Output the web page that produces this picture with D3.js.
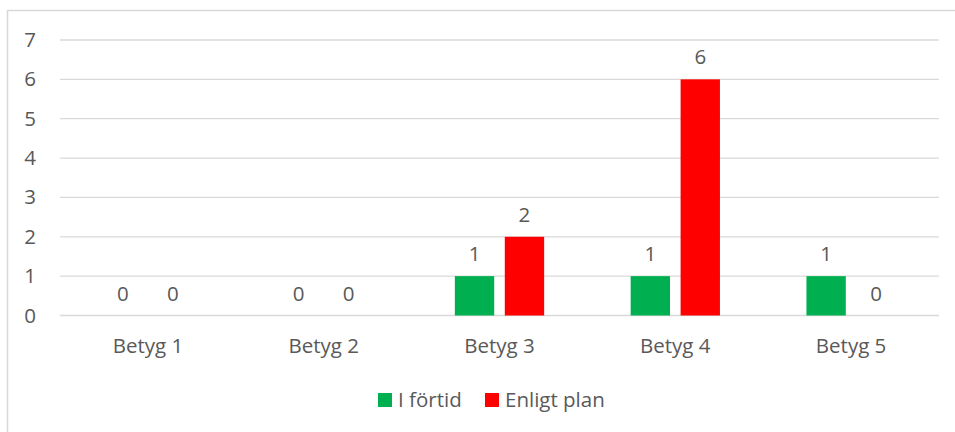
<!DOCTYPE html>
<html>
<head>
<meta charset="utf-8">
<script src="https://cdn.jsdelivr.net/npm/d3@7"></script>
<style>
  body { margin: 0; background: #fff; }
  svg text { font-family: "Open Sans", sans-serif; fill: #595959; }
</style>
</head>
<body>
<svg id="chart"></svg>
<script>
  // DATA
  const categories = ["Betyg 1", "Betyg 2", "Betyg 3", "Betyg 4", "Betyg 5"];
  const seriesNames = ["I förtid", "Enligt plan"];
  const iFortid = [0, 0, 1, 1, 1];
  const enligtPlan = [0, 0, 2, 6, 0];
  const yTicks = [0, 1, 2, 3, 4, 5, 6, 7];
  const colors = ["#00B050", "#FF0000"];

  const series = [iFortid, enligtPlan];

  // DIMENSIONS
  const dims = { width: 955, height: 432 };
  const plot = { left: 60, right: 939, top: 40, bottom: 315.5 };
  const FONT = 20.5;

  const svg = d3
    .select("#chart")
    .attr("width", dims.width)
    .attr("height", dims.height);

  // CHART BORDER (only top and left are visible in the crop)
  svg
    .append("rect")
    .attr("x", 7.5)
    .attr("y", 10.5)
    .attr("width", dims.width + 20)
    .attr("height", dims.height + 20)
    .attr("fill", "none")
    .attr("stroke", "#d9d9d9")
    .attr("stroke-width", 1.5);

  // SCALES
  const y = d3.scaleLinear().domain([0, 7]).range([plot.bottom, plot.top]);

  const x0 = d3
    .scaleBand()
    .domain(categories)
    .range([plot.left, plot.right])
    .padding(0);

  const x1 = d3
    .scaleBand()
    .domain(d3.range(seriesNames.length))
    .range([0, x0.bandwidth()])
    .paddingInner(0.212)
    .paddingOuter(0.866);

  // GRIDLINES
  svg
    .append("g")
    .selectAll("line")
    .data(yTicks)
    .join("line")
    .attr("x1", plot.left)
    .attr("x2", plot.right)
    .attr("y1", (d) => y(d))
    .attr("y2", (d) => y(d))
    .attr("stroke", "#d9d9d9")
    .attr("stroke-width", 1.3);

  // Y AXIS LABELS
  svg
    .append("g")
    .selectAll("text")
    .data(yTicks)
    .join("text")
    .attr("x", 36)
    .attr("y", (d) => y(d) + 7)
    .attr("text-anchor", "end")
    .attr("font-size", FONT)
    .text((d) => d);

  // X AXIS LABELS
  svg
    .append("g")
    .selectAll("text")
    .data(categories)
    .join("text")
    .attr("x", (d) => x0(d) + x0.bandwidth() / 2)
    .attr("y", 353)
    .attr("text-anchor", "middle")
    .attr("font-size", FONT)
    .text((d) => d);

  // BARS + VALUE LABELS
  const groups = svg
    .append("g")
    .selectAll("g.cat")
    .data(categories)
    .join("g")
    .attr("class", "cat")
    .attr("transform", (d) => `translate(${x0(d)},0)`);

  const cells = (c, ci) =>
    series.map((s, si) => ({ si, value: s[ci] }));

  groups
    .selectAll("rect")
    .data((d, i) => cells(d, i))
    .join("rect")
    .attr("x", (d) => x1(d.si))
    .attr("width", x1.bandwidth())
    .attr("y", (d) => y(d.value))
    .attr("height", (d) => y(0) - y(d.value))
    .attr("fill", (d) => colors[d.si]);

  groups
    .selectAll("text")
    .data((d, i) => cells(d, i))
    .join("text")
    .attr("x", (d) => x1(d.si) + x1.bandwidth() / 2)
    .attr("y", (d) => y(d.value) - 15)
    .attr("text-anchor", "middle")
    .attr("font-size", FONT)
    .text((d) => d.value);

  // LEGEND
  const legendX = [378, 485];
  const legend = svg
    .append("g")
    .selectAll("g")
    .data(seriesNames)
    .join("g")
    .attr("transform", (d, i) => `translate(${legendX[i]},0)`);

  legend
    .append("rect")
    .attr("x", 0)
    .attr("y", 393)
    .attr("width", 14)
    .attr("height", 14)
    .attr("fill", (d, i) => colors[i]);

  legend
    .append("text")
    .attr("x", 20)
    .attr("y", 407)
    .attr("font-size", FONT)
    .text((d) => d);
</script>
</body>
</html>
